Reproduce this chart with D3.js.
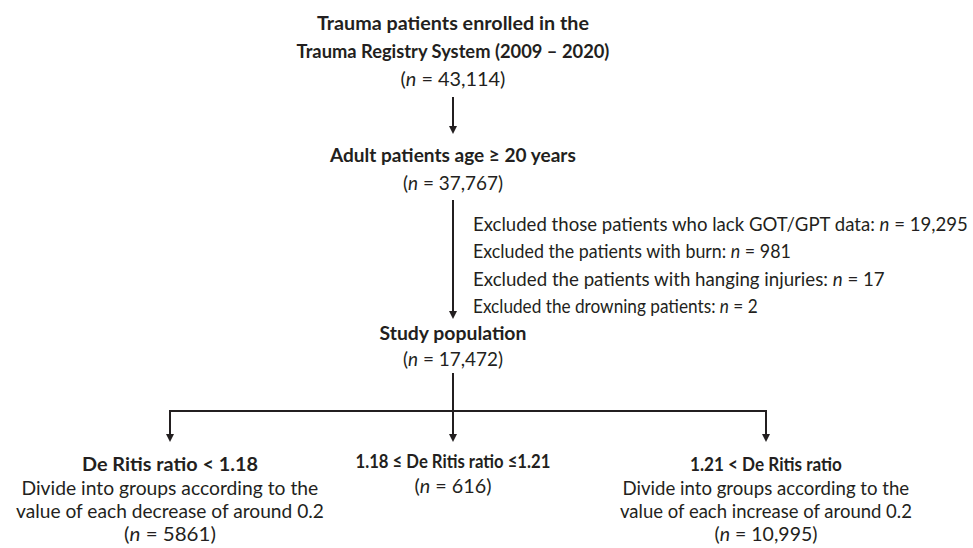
<!DOCTYPE html>
<html>
<head>
<meta charset="utf-8">
<script src="https://cdn.jsdelivr.net/npm/d3@7"></script>
<style>
  html, body { margin: 0; padding: 0; background: #fff; }
  svg text { font-family: Lato, "Open Sans", sans-serif; fill: #231f20; }
</style>
</head>
<body>
<svg id="chart" width="973" height="548"></svg>
<script>
// ---- data ----
var stepTitles = [
  ["Trauma patients enrolled in the", "Trauma Registry System (2009 \u2013 2020)"],
  ["Adult patients age \u2265 20 years"],
  ["Study population"]
];
var stepCounts = [43114, 37767, 17472];

var exclusionLabels = [
  "Excluded those patients who lack GOT/GPT data",
  "Excluded the patients with burn",
  "Excluded the patients with hanging injuries",
  "Excluded the drowning patients"
];
var exclusionCounts = [19295, 981, 17, 2];

var groupTitles = ["De Ritis ratio < 1.18", "1.18 \u2264 De Ritis ratio \u22641.21", "1.21 < De Ritis ratio"];
var groupNotes = [
  ["Divide into groups according to the", "value of each decrease of around 0.2"],
  [],
  ["Divide into groups according to the", "value of each increase of around 0.2"]
];
var groupCounts = [5861, 616, 10995];

// ---- layout ----
var svg = d3.select("#chart");
var ink = "#231f20";
var cx = 453;
var fmtN = function (v) { return v >= 10000 ? d3.format(",")(v) : String(v); };

// step baselines: title lines then count line
var stepLayout = [
  { lines: [30, 58], count: 86, widths: [272, 313], countW: 105 },
  { lines: [162], count: 190, widths: [246], countW: 100 },
  { lines: [340], count: 366, widths: [147], countW: 100 }
];
var groupX = d3.scaleOrdinal().domain([0, 1, 2]).range([170, cx, 766]);
var groupLayout = [
  { title: 471, notes: [495, 518], count: 541, titleW: 176, notesW: [297, 308], countW: 92 },
  { title: 468, notes: [], count: 493, titleW: 195, notesW: [], countW: 77 },
  { title: 471, notes: [495, 518], count: 541, titleW: 152, notesW: [287, 292], countW: 103 }
];

// draws a text line centred on x, squeezed to a target width
function fitText(sel, x, y, w, anchor) {
  var node = sel.node();
  var len = node.getComputedTextLength();
  var s = w ? w / len : 1;
  var x0 = anchor === "start" ? x : x - len * s / 2;
  sel.attr("x", 0).attr("y", 0)
    .attr("transform", "translate(" + x0 + "," + y + ") scale(" + s + ",1)");
  return sel;
}

function countText(g, v, x, y, w, size) {
  var t = g.append("text").style("font-size", size + "px");
  t.append("tspan").text("(");
  t.append("tspan").style("font-style", "italic").text("n");
  t.append("tspan").text(" = " + fmtN(v) + ")");
  fitText(t, x, y, w);
}

var g = svg.append("g");

// main steps
stepTitles.forEach(function (lines, i) {
  var L = stepLayout[i];
  lines.forEach(function (s, j) {
    var t = g.append("text").style("font-size", "19.5px").style("font-weight", "bold").text(s);
    fitText(t, cx, L.lines[j], L.widths[j]);
  });
  countText(g, stepCounts[i], cx, L.count, L.countW, 19.5);
});

// exclusions
var exW = [495, 318, 412, 285];
exclusionLabels.forEach(function (s, i) {
  var t = g.append("text").style("font-size", "19.5px");
  t.append("tspan").text(s + ": ");
  t.append("tspan").style("font-style", "italic").text("n");
  t.append("tspan").text(" = " + fmtN(exclusionCounts[i]));
  fitText(t, 473, 231 + i * 27.3, exW[i], "start");
});

// groups
groupTitles.forEach(function (s, i) {
  var L = groupLayout[i], x = groupX(i);
  var t = g.append("text").style("font-size", "19px").style("font-weight", "bold").text(s);
  fitText(t, x, L.title, L.titleW);
  groupNotes[i].forEach(function (n, j) {
    var tn = g.append("text").style("font-size", "19px").text(n);
    fitText(tn, x, L.notes[j], L.notesW[j]);
  });
  countText(g, groupCounts[i], x, L.count, L.countW, 19);
});

// ---- connectors ----
var lines = g.append("g").attr("stroke", ink).attr("stroke-width", 2).attr("fill", "none");
function arrow(x, y1, y2) {
  lines.append("line").attr("x1", x).attr("x2", x).attr("y1", y1).attr("y2", y2 - 6);
  g.append("path").attr("fill", ink)
    .attr("d", "M" + (x - 4) + "," + (y2 - 8) + "L" + (x + 4) + "," + (y2 - 8) + "L" + x + "," + y2 + "Z");
}
arrow(cx, 97, 134);
arrow(cx, 200, 319);
lines.append("line").attr("x1", cx).attr("x2", cx).attr("y1", 373).attr("y2", 411);
lines.append("line").attr("x1", groupX(0) - 1).attr("x2", groupX(2) + 1).attr("y1", 411).attr("y2", 411);
[0, 1, 2].forEach(function (i) { arrow(groupX(i), 411, 442); });
</script>
</body>
</html>
